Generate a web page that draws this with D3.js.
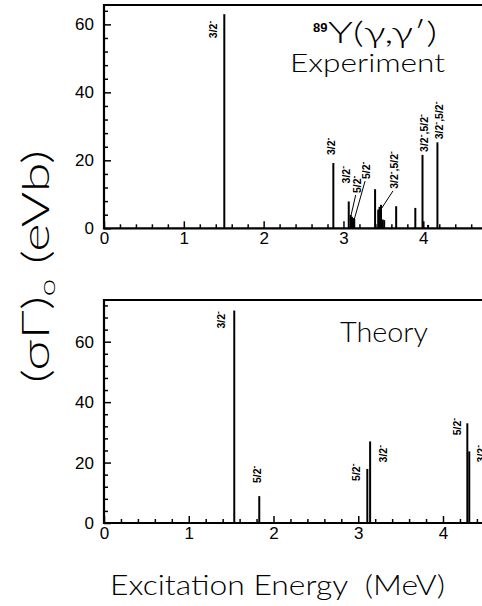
<!DOCTYPE html>
<html>
<head>
<meta charset="utf-8">
<script src="https://cdn.jsdelivr.net/npm/d3@7/dist/d3.min.js"></script>
<style>
body { margin: 0; background: #fff; }
svg text { fill: #000; }
</style>
</head>
<body>
<div id="chart"></div>
<script>
// Data

// experiment, 89Y(gamma,gamma'): energy (MeV) and (sigma Gamma)_0 (eVb)
var exp_energy   = [1.507, 2.873, 3.066, 3.090, 3.105, 3.120, 3.135, 3.396, 3.435, 3.452, 3.470, 3.490, 3.510, 3.660, 3.900, 3.990, 4.060, 4.177];
var exp_strength = [63.0,  19.2,  7.9,   3.9,   3.4,   3.0,   2.7,   11.5,  5.5,   6.3,   6.9,   2.6,   2.4,   6.5,   6.0,   21.6,  1.0,   25.3];

// spin labels and the line (index) each one belongs to
var exp_labels     = ["3/2-", "3/2-", "3/2-", "5/2-", "5/2-", "3/2-,5/2-", "3/2-,5/2-", "3/2-,5/2-"];
var exp_label_line = [0, 1, 2, 3, 5, 10, 15, 17];

// theory
var theory_energy   = [1.537, 1.832, 3.107, 3.140, 4.287, 4.310];
var theory_strength = [70.3,  8.9,   17.9,  27.0,  33.0,  23.7];
var theory_labels     = ["3/2-", "5/2-", "5/2-", "3/2-", "5/2-", "3/2-"];
var theory_label_line = [0, 1, 2, 3, 4, 5];

// tick labels
var x_ticks = [0, 1, 2, 3, 4];
var y_ticks = [0, 20, 40, 60];

// Drawing

var svg = d3.select("#chart").append("svg")
    .attr("width", 482)
    .attr("height", 606);

var tick_font = "'Liberation Sans', Arial, sans-serif";
var big_font = "Lato, 'DejaVu Sans', sans-serif";

// write "3/2-" with the minus raised
var spin_text = function(sel, str) {
    var parts = str.split("-");
    var raised = false;
    parts.forEach(function(p, i) {
        if (p) {
            sel.append("tspan").attr("dy", raised ? 4 : null).text(p);
            raised = false;
        }
        if (i < parts.length - 1) {
            sel.append("tspan").attr("dy", -4).attr("font-size", 8.5).text("-");
            raised = true;
        }
    });
};

var panel = function(p) {
    var x = d3.scaleLinear().domain([0, 4]).range(p.x_range);
    var y = d3.scaleLinear().domain([0, p.y_max]).range(p.y_range);
    var g = svg.append("g");

    // ticks point inwards
    var fix = function(a) {
        a.select(".domain").remove();
        a.selectAll("line").attr("stroke", "#000").attr("stroke-width", 1.5);
        a.selectAll("text").attr("font-family", tick_font).attr("font-size", 17).attr("fill", "#000");
    };
    var minor_x = d3.range(0, 5.01, 0.2).filter(function(d) { return Math.abs(d - Math.round(d)) > 1e-6; });
    var minor_y = d3.range(0, p.y_max, 4).filter(function(d) { return d % 20 !== 0; });

    g.append("g").attr("transform", "translate(0," + y(0) + ")")
        .call(d3.axisBottom(x).tickValues(x_ticks).tickSize(-7).tickPadding(4).tickFormat(d3.format("d")))
        .call(fix);
    g.append("g").attr("transform", "translate(0," + y(0) + ")")
        .call(d3.axisBottom(x).tickValues(minor_x).tickSize(-4).tickFormat(""))
        .call(fix);
    g.append("g").attr("transform", "translate(" + x(0) + ",0)")
        .call(d3.axisLeft(y).tickValues(y_ticks).tickSize(-7).tickPadding(10).tickFormat(d3.format("d")))
        .call(fix);
    g.append("g").attr("transform", "translate(" + x(0) + ",0)")
        .call(d3.axisLeft(y).tickValues(minor_y).tickSize(-4).tickFormat(""))
        .call(fix);

    // frame, open on the right (cut off in the original)
    g.append("path")
        .attr("d", "M" + x(5) + "," + y(p.y_max) + "H" + x(0) + "V" + y(0) + "H" + x(5))
        .attr("fill", "none")
        .attr("stroke", "#000")
        .attr("stroke-width", 2.2);

    // the lines
    g.selectAll("line.peak")
        .data(p.energy)
      .enter().append("line")
        .attr("class", "peak")
        .attr("x1", function(d) { return x(d); })
        .attr("x2", function(d) { return x(d); })
        .attr("y1", y(0))
        .attr("y2", function(d, i) { return y(p.strength[i]); })
        .attr("stroke", "#000")
        .attr("stroke-width", 2);

    // labels, rotated; nudge = [dx from line, dy from line top]
    p.labels.forEach(function(lab, i) {
        var k = p.label_line[i];
        var lx = x(p.energy[k]) + p.nudge[i][0];
        var ly = y(p.strength[k]) + p.nudge[i][1];
        var t = g.append("text")
            .attr("transform", "translate(" + lx + "," + ly + ") rotate(-90)")
            .attr("font-family", tick_font)
            .attr("font-weight", "bold")
            .attr("font-size", 10.5);
        spin_text(t, lab);
        if (p.leader[i]) {
            g.append("line")
                .attr("x1", lx - 5).attr("y1", ly + 2)
                .attr("x2", x(p.energy[k]) + p.leader[i][0])
                .attr("y2", y(p.strength[k]) + p.leader[i][1])
                .attr("stroke", "#000")
                .attr("stroke-width", 1);
        }
    });

    return g;
};

// top: experiment
var top_g = panel({
    x_range: [104, 423.3], y_range: [228.3, 5], y_max: 65.7,
    energy: exp_energy, strength: exp_strength,
    labels: exp_labels, label_line: exp_label_line,
    nudge: [[-7, 24], [2, -8], [1.5, -18], [10, -22], [17, -39], [17, -16], [5, -3], [6, -3]],
    leader: [null, null, null, [0, 2], [1, 2], [-1, 6], null, null]
});

top_g.append("text")
    .attr("x", 313).attr("y", 32)
    .attr("font-family", tick_font)
    .attr("font-weight", "bold")
    .attr("font-size", 13)
    .text("89");

top_g.append("text")
    .attr("x", 328).attr("y", 43)
    .attr("font-family", big_font)
    .attr("font-weight", 300)
    .attr("font-size", 30)
    .attr("textLength", 109)
    .attr("lengthAdjust", "spacingAndGlyphs")
    .text("Y(\u03b3,\u03b3\u2032)");

top_g.append("text")
    .attr("x", 290).attr("y", 72)
    .attr("font-family", big_font)
    .attr("font-weight", 300)
    .attr("font-size", 26)
    .attr("textLength", 155)
    .attr("lengthAdjust", "spacingAndGlyphs")
    .text("Experiment");

// bottom: theory
var bot_g = panel({
    x_range: [104, 443], y_range: [523, 300], y_max: 73.8,
    energy: theory_energy, strength: theory_strength,
    labels: theory_labels, label_line: theory_label_line,
    nudge: [[-9, 18], [2, -13], [-7, 12], [17, 21], [-6, 12], [16, 11]],
    leader: [null, null, null, null, null, null]
});

bot_g.append("text")
    .attr("x", 340).attr("y", 341.7)
    .attr("font-family", big_font)
    .attr("font-weight", 300)
    .attr("font-size", 27)
    .attr("textLength", 88)
    .attr("lengthAdjust", "spacingAndGlyphs")
    .text("Theory");

// axis titles
svg.append("text")
    .attr("x", 110).attr("y", 595)
    .attr("font-family", big_font)
    .attr("font-weight", 300)
    .attr("font-size", 28)
    .attr("textLength", 335)
    .attr("lengthAdjust", "spacingAndGlyphs")
    .style("white-space", "pre")
    .text("Excitation Energy  (MeV)");

svg.append("text")
    .attr("transform", "translate(49,383) rotate(-90)")
    .attr("font-family", big_font)
    .attr("font-weight", 300)
    .attr("font-size", 38)
    .attr("textLength", 233)
    .attr("lengthAdjust", "spacingAndGlyphs")
    .style("white-space", "pre")
    .call(function(t) {
        t.append("tspan").text("(\u03c3\u0393)");
        t.append("tspan").attr("font-size", 22).attr("dy", 6).text("o");
        t.append("tspan").attr("dy", -6).text(" (eVb)");
    });
</script>
</body>
</html>
